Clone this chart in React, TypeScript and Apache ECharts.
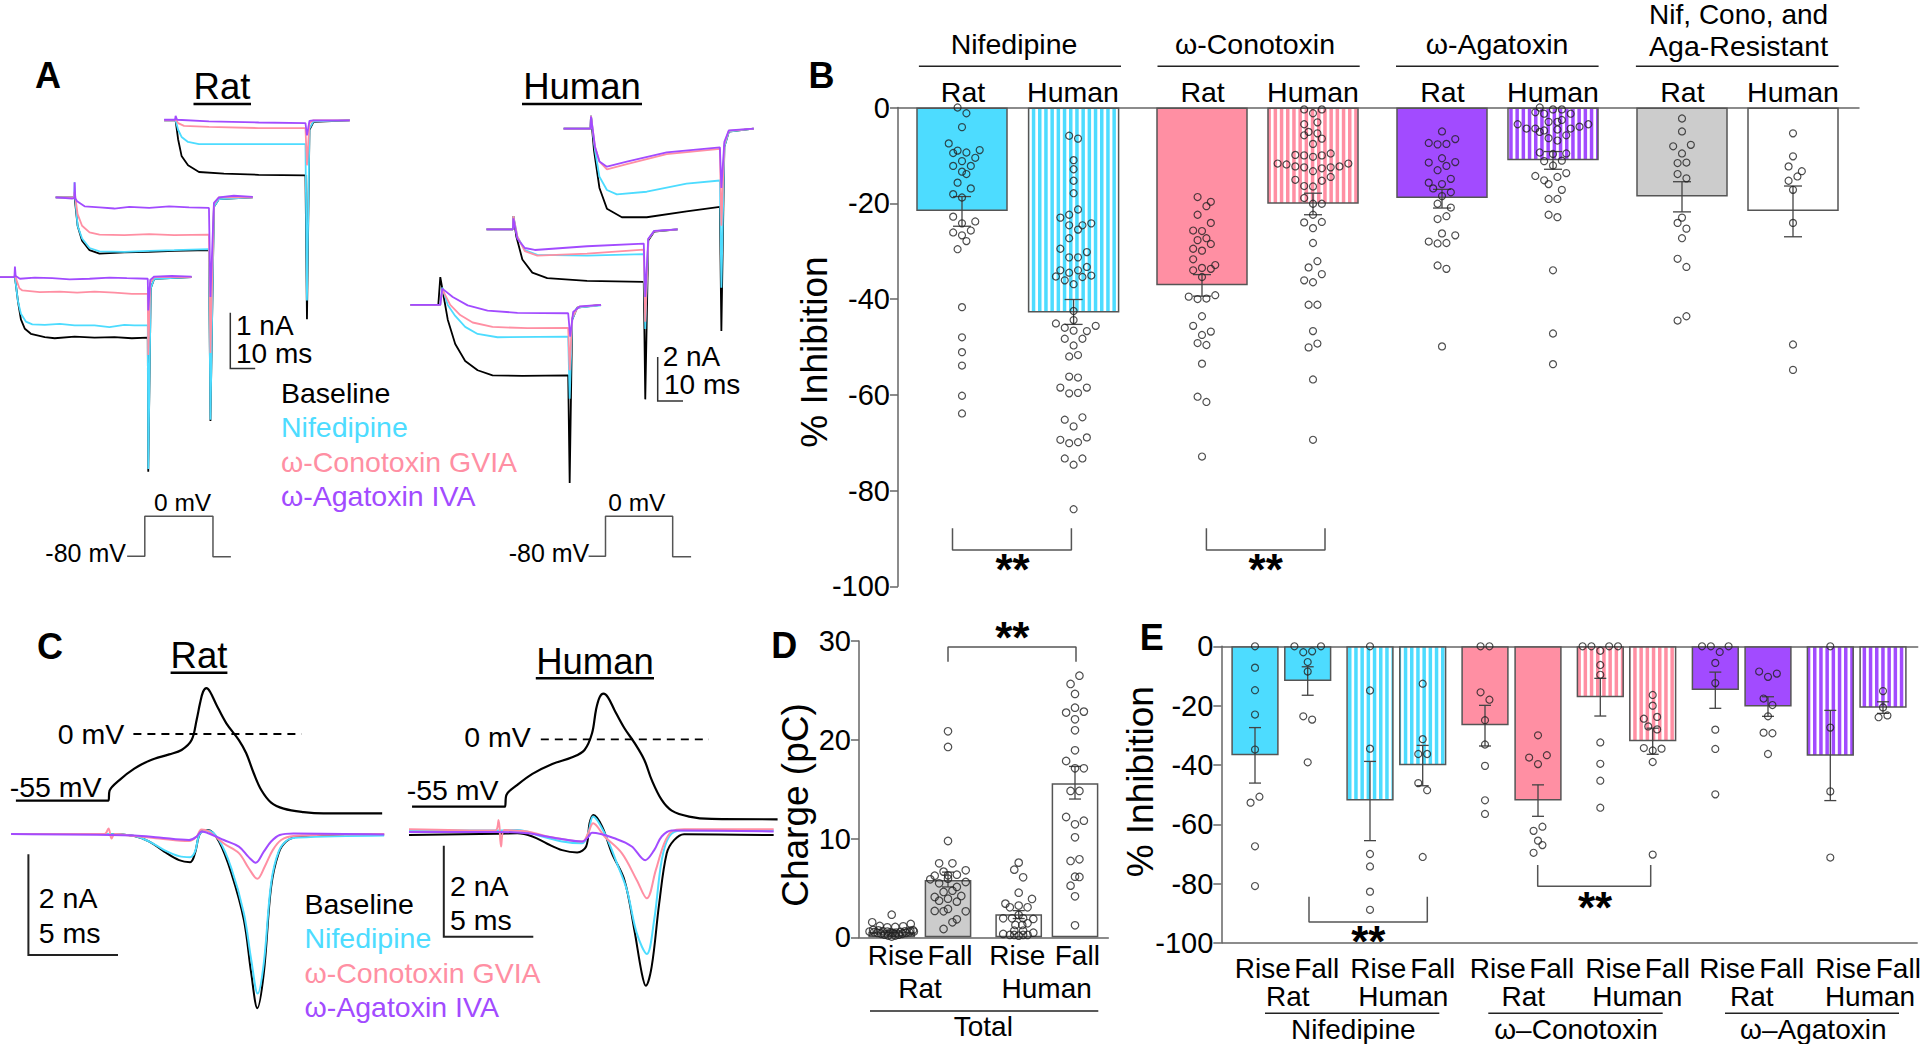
import React, { useEffect, useRef } from "react";
import * as echarts from "echarts";

const FONT = "Liberation Sans, Arial, sans-serif";
const CYAN = "#4ddcff";
const PINK = "#ff8fa3";
const PURPLE = "#a24bff";
const BLACK = "#000000";
const GRAY = "#cccccc";

// ---------- Panel A: calcium currents, [ms, nA] ----------
const ratA1Black = [[-6,0],[0,0],[1.2,-0.43],[2.4,-0.76],[4,-0.93],[6.4,-1.02],[12,-1.08],[16,-1.1],[24,-1.07],[32,-1.09],[40,-1.08],[47,-1.1],[53.4,-1.09],[53.6,-3.5],[54.6,-0.2],[56,-0.03],[71,0]];
const ratA1Cyan = [[-6,0],[0,0],[1.2,-0.43],[2.4,-0.66],[4.4,-0.8],[7,-0.85],[12,-0.86],[18,-0.84],[24,-0.87],[32,-0.87],[38,-0.9],[44,-0.86],[48,-0.87],[53.4,-0.87],[53.6,-3.45],[54.6,-0.2],[56,-0.03],[71,0]];
const ratA1Pink = [[-6,0],[-0.2,0],[0,0.05],[0.6,-0.05],[1.8,-0.2],[3,-0.24],[10,-0.27],[18,-0.26],[25,-0.28],[32,-0.26],[40,-0.28],[47,-0.3],[53.4,-0.3],[53.6,-1.4],[54.4,-0.1],[56,0],[71,0]];
const ratA1Purple = [[-6,0],[-0.2,0],[0,0.19],[0.3,0.02],[2,-0.03],[8,-0.01],[15,-0.02],[22,-0.04],[30,-0.03],[38,-0.01],[45,-0.02],[53.4,-0.03],[53.6,-0.6],[54.4,-0.05],[56,0.01],[63,0.02],[71,0.01]];
const ratA2Black = [[-7.6,0],[0,0],[1.2,-0.51],[3,-0.78],[6,-0.95],[10,-1.01],[20,-0.99],[30,-0.98],[40,-0.96],[54,-0.95],[54.6,-4.02],[56,-0.17],[58,-0.03],[71.6,0]];
const ratA2Cyan = [[-7.6,0],[-0.1,0],[0,0.27],[0.2,0],[1.2,-0.51],[3,-0.74],[6,-0.91],[10,-0.97],[20,-0.98],[30,-0.96],[40,-0.95],[54,-0.93],[54.6,-4.0],[56,-0.17],[58,-0.03],[71.6,0]];
const ratA2Pink = [[-7.6,0],[-0.2,0],[0,0.1],[1.2,-0.3],[3,-0.51],[6,-0.63],[10,-0.67],[20,-0.68],[30,-0.66],[40,-0.68],[54,-0.67],[54.6,-2.8],[56,-0.12],[58,0],[71.6,0]];
const ratA2Purple = [[-7.6,0],[-1,-0.02],[-0.1,-0.01],[0,0.27],[0.3,-0.02],[1,-0.07],[4,-0.16],[10,-0.18],[16,-0.2],[22,-0.17],[30,-0.19],[38,-0.16],[46,-0.18],[54,-0.19],[54.6,-1.79],[56,-0.1],[58,0],[64,0.03],[71.6,0.01]];
const ratA3Black = [[-4.6,0],[0,0],[1,-0.34],[2.4,-0.64],[5,-0.81],[9.4,-0.93],[19.4,-0.96],[33.4,-0.98],[52.2,-0.99],[52.8,-3.58],[53.8,-0.17],[55.4,-0.03],[70,0]];
const ratA3Cyan = [[-4.6,0],[0,0],[1,-0.17],[2.4,-0.3],[5,-0.39],[9.4,-0.43],[29,-0.43],[52.2,-0.43],[52.8,-3.24],[53.8,-0.15],[55.4,-0.02],[70,0]];
const ratA3Pink = [[-4.6,0],[-0.2,0],[0,0.03],[1,-0.05],[3.4,-0.1],[13.4,-0.12],[33.4,-0.14],[52.2,-0.14],[52.8,-0.81],[53.8,-0.05],[55.4,0],[70,0]];
const ratA3Purple = [[-4.6,0.01],[-0.2,0.01],[0,0.08],[0.6,0.01],[13.4,-0.02],[33.4,-0.04],[52.2,-0.05],[52.8,-0.27],[53.8,-0.01],[55.4,0],[70,0]];
const humA1Black = [[-12,0],[-0.8,0],[0,1.26],[1.4,0.36],[3,-0.67],[6,-1.78],[10,-2.55],[15,-2.97],[21,-3.2],[33,-3.23],[51.4,-3.2],[52,-8.1],[53,-0.67],[55,-0.12],[64.6,0]];
const humA1Cyan = [[-12,0],[0,0],[0.8,0.79],[3,0],[6,-0.5],[10,-1],[15,-1.32],[23,-1.47],[51.4,-1.44],[52,-4.26],[53,-0.67],[55,-0.12],[64.6,-0.02]];
const humA1Pink = [[-12,0],[0,0],[0.8,0.7],[4,0],[8,-0.46],[13,-0.8],[21,-1],[35,-1.06],[51.4,-1.04],[52,-2.97],[53,-0.58],[55.4,-0.09],[64.6,0]];
const humA1Purple = [[-12,0],[0,0],[0.8,0.74],[5,0.36],[11,-0.02],[19,-0.26],[31,-0.36],[51.4,-0.38],[52.2,-1.44],[53.4,-0.32],[56,-0.07],[64.6,0]];
const humA2Black = [[-10.8,0],[-0.2,0],[0,0.6],[1.2,-0.34],[3.6,-1.37],[7.6,-1.97],[13.6,-2.22],[29.6,-2.34],[52.4,-2.39],[53,-7.73],[54.2,-0.51],[56.6,-0.1],[66,0]];
const humA2Cyan = [[-10.8,0],[-0.2,0],[0,0.6],[1.6,-0.34],[4.6,-0.94],[9.6,-1.16],[29.6,-1.2],[52.4,-1.13],[53,-4.53],[54.2,-0.45],[56.6,-0.08],[66,0]];
const humA2Pink = [[-10.8,0],[-0.2,0],[0,0.6],[1.6,-0.34],[4.6,-0.99],[9.6,-1.2],[29.6,-1.11],[52.4,-0.92],[53,-4.2],[54.2,-0.45],[56.6,-0.08],[66,0]];
const humA2Purple = [[-10.8,0],[-0.2,0],[0,0.5],[1.6,-0.43],[4.6,-0.85],[8.6,-0.94],[29.6,-0.77],[52.4,-0.65],[53,-3.08],[54.2,-0.43],[56.6,-0.07],[66,0]];
const humA3Black = [[-11,0],[-0.2,0],[0,0.58],[1.2,-0.99],[3.4,-2.7],[6.4,-3.64],[12.4,-4.03],[22.4,-4.03],[38.4,-3.76],[51.8,-3.56],[52.4,-9.2],[53.6,-0.82],[55.4,-0.14],[65.4,0]];
const humA3Cyan = [[-11,0],[-0.2,0],[0,0.58],[1.6,-0.99],[3.4,-2.19],[6.4,-2.79],[10.4,-2.99],[22.4,-2.87],[38.4,-2.5],[51.8,-2.36],[52.4,-7.23],[53.6,-0.82],[55.4,-0.14],[65.4,0]];
const humA3Pink = [[-11,0],[-0.2,0],[0,0.58],[1.6,-0.82],[3.4,-1.5],[6.4,-1.85],[14.4,-1.62],[30.4,-1.16],[51.8,-0.92],[52.4,-4.41],[53.6,-0.7],[55.4,-0.1],[65.4,0]];
const humA3Purple = [[-11,0],[-0.2,0],[0,0.55],[1.6,-0.82],[3.4,-1.5],[6.4,-1.73],[14.4,-1.5],[30.4,-1.08],[51.8,-0.85],[52.4,-2.7],[53.6,-0.6],[55.4,-0.08],[65.4,0]];
const stepRat = [[-7.1,-80],[0,-80],[0,0],[27.4,0],[27.4,-81],[34.6,-81]];
const stepHuman = [[-6.8,-80],[0,-80],[0,0],[27,0],[27,-81],[34.4,-81]];

// ---------- Panel C: action-potential waveform [ms, mV], current [ms, nA] ----------
const apRat = [[-5.17,-55],[-0.1,-55],[0,-55],[0.06,-46.8],[0.61,-38],[1.44,-28.6],[2.28,-22],[3.39,-16.8],[4.08,-13.2],[4.64,-5],[4.92,11.6],[5.11,25.3],[5.28,34.9],[5.47,37.9],[5.67,34.9],[6.03,24],[6.58,8.8],[7.28,-5],[7.69,-15.9],[8.11,-32.4],[8.53,-46.2],[9.08,-56.6],[9.78,-61.6],[10.89,-64.4],[12,-65.5],[15.28,-65.5]];
const apHuman = [[-5.19,-55],[-0.1,-55],[0,-55],[0.08,-45.5],[0.69,-37.3],[1.53,-28.3],[2.64,-20.2],[3.75,-14.7],[4.44,-8.7],[4.86,4.9],[5.08,24],[5.28,34.3],[5.5,37.3],[5.75,34.3],[6.11,24],[6.67,9],[7.22,-2.7],[7.78,-16.9],[8.19,-33.2],[8.75,-49.6],[9.31,-58.3],[10.28,-63.2],[11.53,-65.1],[15.22,-65.4]];
const zeroRat = [[1.39,0],[10.78,0]];
const zeroHuman = [[2,0],[11.39,0]];
const curRatBlack = [[-5.44,0],[0,0],[1.44,-0.04],[2.28,-0.15],[3.11,-0.35],[3.94,-0.52],[4.56,-0.56],[4.83,-0.38],[5.11,0.01],[5.56,0.08],[6.17,-0.15],[6.86,-0.78],[7.56,-1.71],[7.97,-2.77],[8.31,-3.46],[8.67,-2.77],[9.08,-1.05],[9.5,-0.38],[9.92,-0.15],[10.61,-0.05],[15.39,-0.01]];
const curRatCyan = [[-5.44,0],[0,0],[1.44,-0.04],[2.28,-0.15],[3.11,-0.32],[3.94,-0.44],[4.56,-0.46],[4.83,-0.35],[5.11,0.01],[5.56,0.07],[6.17,-0.12],[6.86,-0.68],[7.56,-1.58],[7.97,-2.5],[8.33,-3.17],[8.67,-2.57],[9.08,-0.98],[9.5,-0.35],[10,-0.12],[10.61,-0.07],[15.39,-0.03]];
const curRatPink = [[-5.44,0],[-0.22,0],[0,0.11],[0.17,-0.09],[0.35,0],[1.44,-0.04],[2.83,-0.09],[4.5,-0.14],[4.92,-0.05],[5.19,0.09],[5.61,0.05],[6.44,-0.19],[7.28,-0.38],[7.83,-0.68],[8.31,-0.89],[8.72,-0.65],[9.17,-0.32],[9.64,-0.12],[10.33,-0.04],[15.39,0]];
const curRatPurple = [[-5.44,0],[1.44,-0.03],[2.83,-0.07],[4.5,-0.12],[4.92,-0.05],[5.19,0.05],[5.61,0.01],[6.44,-0.12],[7.28,-0.25],[7.83,-0.46],[8.22,-0.57],[8.67,-0.35],[9.08,-0.15],[9.56,-0.02],[10.33,0.01],[15.39,-0.01]];
const curHumBlack = [[-5.36,-0.04],[-0.42,-0.01],[0.69,0],[1.53,-0.07],[2.36,-0.23],[3.19,-0.37],[4.03,-0.42],[4.53,-0.29],[4.72,0.22],[4.94,0.4],[5.42,0.15],[5.97,-0.44],[6.67,-1.03],[7.22,-2.12],[7.64,-3.08],[7.86,-3.35],[8.19,-2.93],[8.61,-1.54],[9.03,-0.44],[9.44,-0.15],[10,-0.02],[15,-0.04]];
const curHumCyan = [[-5.36,0.07],[-0.42,0.06],[0.69,0.07],[2.08,-0.07],[3.19,-0.18],[4.31,-0.22],[4.64,0],[4.92,0.37],[5.56,0],[6.25,-0.66],[6.81,-1.25],[7.36,-2.2],[7.92,-2.65],[8.33,-1.9],[8.75,-0.59],[9.17,-0.07],[9.86,0.06],[15,0.06]];
const curHumPink = [[-5.36,0.09],[-0.56,0.06],[-0.36,0.29],[-0.22,-0.29],[-0.03,0.07],[1.25,0.04],[2.36,-0.07],[4.31,-0.18],[4.64,0],[4.92,0.22],[5.56,-0.07],[6.53,-0.44],[7.36,-1.03],[7.92,-1.43],[8.42,-0.81],[8.89,-0.22],[9.31,0.04],[10,0.09],[15,0.09]];
const curHumPurple = [[-5.36,0.03],[-0.42,0.03],[1.25,0],[2.64,-0.09],[4.31,-0.18],[4.67,-0.07],[4.86,0.01],[6.25,-0.13],[7.08,-0.29],[7.83,-0.59],[8.33,-0.37],[8.75,-0.07],[9.31,0.06],[10,0.06],[15,0.04]];

// ---------- Panel B ----------
const bBarValues = [-21.6,-42.8,-37.1,-20.1,-18.9,-11,-18.6,-21.6];
const bErrUpper = [-18.6,-40.1,-34.9,-17.9,-17.1,-9.2,-15.5,-16.4];
const bErrLower = [-24.8,-45.3,-39.4,-22.4,-21,-12.9,-21.8,-27];
const bNifRatVals = [0,-1.2,-4.1,-7.5,-8.9,-9,-9.4,-9.5,-10.5,-11.2,-12.2,-12.2,-13.4,-13.9,-15.7,-16.9,-18.1,-18.8,-22.8,-23.8,-24.2,-25.7,-26.1,-26.7,-27.9,-29.6,-41.7,-48,-51.1,-53.9,-60.2,-63.9];
const bNifRatCols = [-1,1,0,-3,4,-1,1,-2,3,0,-2,2,0,1,-1,2,-2,0,-2,3,0,2,-2,0,1,-1,0,0,0,0,0,0];
const bNifHumVals = [-5.9,-6.5,-11,-12.9,-15.3,-17.9,-21.3,-22.4,-23,-24.2,-24.6,-24.6,-25.5,-27.3,-29.5,-30.2,-31.3,-31.3,-33.3,-34,-34,-34.5,-35.3,-35.1,-35.4,-36.1,-36.9,-42.5,-44.4,-45.1,-45.6,-46,-46.6,-46.7,-48.3,-48.3,-49.7,-52,-51.7,-56.2,-56.4,-58.5,-58.5,-59.7,-59.6,-65.2,-64.7,-66.6,-69.4,-68.9,-70.1,-69.9,-73.3,-73.3,-74.6,-83.9];
const bNifHumCols = [-1,1,0,0,0,0,1,-1,-3,4,-1,2,1,-1,-3,3,-1,1,3,-3,1,-1,-4,4,2,-2,0,0,0,-4,5,-2,0,3,-2,2,0,-1,1,-1,1,-3,3,-1,1,-2,2,0,-3,3,-1,1,-2,2,0,0];
const bConoRatVals = [-18.7,-19.7,-20.6,-22.4,-24.1,-25.7,-25.8,-27.3,-27.7,-28.5,-29.5,-29.9,-31.7,-32.9,-33.5,-33.7,-34,-35.4,-39.5,-39.2,-40,-39.9,-43.6,-45.6,-46.8,-47.5,-49.2,-49.6,-53.5,-60.4,-61.5,-72.9];
const bConoRatCols = [-1,2,1,-1,2,-2,0,1,-1,2,-2,0,-2,3,0,2,-2,0,-3,3,-1,1,0,-2,2,0,-1,1,0,-1,1,0];
const bConoHumVals = [-0.4,-1.2,-0.4,-3.5,-3.1,-5.1,-5.4,-5.8,-6.5,-7.6,-11.7,-11.9,-9.9,-10,-10.3,-10,-9.6,-12.3,-12.5,-13.3,-12.7,-12.5,-12.3,-11.7,-15.1,-15.3,-14.5,-16.4,-16.5,-18.9,-20.1,-20.1,-22.4,-24,-23.9,-25.2,-28.3,-32.1,-33.4,-34.8,-36.1,-36.5,-41.2,-41.2,-46.7,-49.3,-50.1,-56.8,-69.4];
const bConoHumCols = [-2,0,2,-2,1,-1,1,-2,2,0,-8,-6,-4,-2,0,2,4,-4,-2,0,2,4,6,8,-4,2,4,-2,0,-2,0,2,0,-2,2,0,0,1,-1,2,-2,0,-1,1,0,1,-1,0,0];
const bAgaRatVals = [-5,-6.6,-7.4,-7.7,-7.6,-10.6,-11.4,-11.5,-12.2,-13.1,-14.9,-15.7,-16,-16.9,-17.7,-18.5,-20.1,-20.9,-22.7,-23.3,-26.3,-26.7,-28,-28.4,-28.3,-33,-33.7,-49.9];
const bAgaRatCols = [0,3,-3,-1,1,0,3,-3,1,-1,2,-3,0,-2,2,0,-1,2,1,-1,0,3,-3,-1,1,-1,1,0];
const bAgaHumVals = [0,-1,-1.3,-0.4,-0.4,-1.3,-2.6,-3,-3,-3.5,-3.5,-4,-4.4,-4.4,-5.1,-4.8,-4.6,-4.4,-5.8,-6.4,-6.9,-9.4,-9.7,-9.6,-11.2,-11.1,-12.1,-14.3,-13.7,-14.5,-15.2,-16,-17.2,-19.1,-19.1,-22.4,-22.9,-34,-47.2,-53.6];
const bAgaHumCols = [-3,-4,-2,0,2,4,2,1,-1,-8,8,6,-6,-4,-3,-2,1,4,3,-1,1,-3,0,3,-2,2,0,-4,3,1,-2,-1,2,-1,1,-1,1,0,0,0];
const bResRatVals = [-2.3,-5,-8.1,-7.8,-9.6,-11.6,-11.5,-13.9,-14.8,-23,-24.1,-25.3,-27.3,-31.6,-33.3,-44.5,-43.6];
const bResRatCols = [0,0,-2,2,0,-1,1,-1,1,0,-1,1,0,-1,1,-1,1];
const bResHumVals = [-5.4,-10.2,-12.3,-13.3,-14.4,-15.3,-17.2,-24.1,-49.5,-54.8];
const bResHumCols = [0,0,-1,2,1,-1,0,0,0,0];

// ---------- Panel D ----------
const dBarValues = [0.57,5.8,2.33,15.6];
const dErrUpper = [0.65,6.6,2.7,17.3];
const dErrLower = [0.49,5.1,1.9,14];
const dRiseRatVals = [2.29,1.52,1.15,1.01,1.05,1.11,1.35,0.75,0.7,0.62,0.58,0.5,0.45,0.48,0.55,0.6,0.68,0.72,0.58,0.52,0.44,0.36,0.27,0.18,0.08,0.18,0.27,0.36,0.44,0.52,0.58];
const dRiseRatCols = [0,-4.4,-2.7,-1,0.8,2.6,4.3,-4.2,-3,-2,-1,-0.3,0.3,1,2,3,4.2,4.8,-5,-4,-3.2,-2.4,-1.6,-0.8,0,0.8,1.6,2.4,3.2,4,5];
const dFallRatVals = [20.86,19.27,9.75,7.49,7.49,6.65,6.78,6.34,6.28,6.24,5.87,5.47,5.6,5.1,5.94,4.72,4.59,4.18,4.08,3.71,3.91,3.61,2.67,2.63,2.87,2.63,1.82,1.52,0.84];
const dFallRatCols = [0,0,0,-2,1,-1,4,2,0,-3,-4,-2,4,2,0,1,-1,3,-3,-2,0,2,-3,-1,0,4,2,1,-1];
const dRiseHumVals = [7.56,6.85,6.07,4.52,3.88,3.41,3.04,3.21,3.04,2.26,1.92,1.92,1.92,1.86,1.42,1.25,1.25,0.67,0.67,0.34,0.24,0.24,0.17,0.24,0.24,0.47];
const dRiseHumCols = [0,-1,1,0,3,-3,-2,0,2,0,-3.5,-1.5,1,3.3,2,-0.75,0.8,-1,1,-3.5,-2,-1,0,1,2,3.3];
const dFallHumVals = [26.49,25.65,24.64,23.25,22.75,22.85,22.07,20.96,18.93,17.85,17.11,17.11,14.82,14.82,12.18,11.81,11.44,10.12,7.73,7.9,6.14,6.11,5.23,4.15,1.21];
const dFallHumCols = [1,-1,0,0,-2,2,0,0,0,-2,0,2,-1,1,-2,2,0,0,-1,1,0,1,-1,0,0];

// ---------- Panel E ----------
const eBarValues = [-36.7,-11.7,-52,-40.1,-26.6,-52,-17.2,-32,-14.7,-20.3,-36.9,-20.7];
const eErrUpper = [-27.4,-6.9,-38.8,-33.4,-19.9,-46.7,-10.8,-27.6,-8.7,-17,-21.6,-18.7];
const eErrLower = [-46.1,-16.5,-65.5,-47,-33.6,-57.3,-23.5,-36.4,-20.9,-23.6,-52,-22.6];
const ePointVals = [
  [0,-7.2,-14.8,-23,-34.8,-50.7,-52.7,-67.4,-80.8],
  [0,0,-2,-1.7,-5.3,-8.5,-23.6,-24.7,-39.1],
  [0,-14.9,-34.5,-70,-74.2,-82.7,-88.8],
  [-12.6,-31.3,-36.3,-36.3,-46.1,-48.5,-71],
  [0,0,-15.5,-18,-24.9,-33.1,-40.3,-51.9,-56.5],
  [-30,-37.5,-36.7,-39.7,-60.8,-62.2,-65.5,-67,-69.6],
  [0,0,0,0,-1.5,-6.3,-9.6,-32.4,-39.6,-45.3,-54.4],
  [-16.4,-20,-24.4,-23.8,-27,-28,-34.3,-35.1,-34.5,-39,-70.2],
  [0,0,0,-1.9,-5.6,-12.4,-28.1,-34.6,-49.9],
  [-8.5,-9.2,-10.3,-17.6,-19.8,-23.6,-29.1,-29.3,-36.3],
  [0,-27.4,-48.9,-71.2],
  [-15.1,-20.6,-23.9,-23.3],
];
const ePointCols = [
  [0,0,0,0,0,1,-1,0,0],
  [-3,3,-1,1,0,0,-1,1,0],
  [0,0,0,0,0,0,0],
  [0,0,-1,1,-1,1,0],
  [-1,1,-1,1,0,0,0,0,0],
  [0,-2,2,0,1,-1,0,1,-1],
  [-4,-2,2,4,0,0,0,0,0,0,0],
  [0,0,-2,1,-1,1,-2,0,2,0,0],
  [-3,-1,3,1,0,0,0,0,0],
  [-2,2,0,-1,1,0,-1,1,0],
  [0,0,0,0],
  [0,0,-1,1],
];

const bBrackets = [[[54.5,-87.85],[54.5,-92.4],[173.4,-92.4],[173.4,-87.85]],[[308.4,-87.85],[308.4,-92.4],[427,-92.4],[427,-87.85]]];
const dBracket = [[89,27.9],[89,29.4],[217,29.4],[217,27.9]];
const eBrackets = [[[87.7,-84.4],[87.7,-92.9],[206,-92.9],[206,-84.4]],[[316.4,-73.7],[316.4,-80.9],[429.4,-80.9],[429.4,-73.7]]];

const FRAME = "#555555";

function stripes(color: string) {
  const c = document.createElement("canvas");
  c.width = 31;
  c.height = 4;
  const g = c.getContext("2d")!;
  g.fillStyle = "#ffffff";
  g.fillRect(0, 0, 31, 4);
  g.fillStyle = color;
  for (let i = 0; i < 5; i++) g.fillRect(6.2 * i + 2.6, 0, 3.5, 4);
  return { image: c, repeat: "repeat", imageWidth: 31, imageHeight: 4 };
}

function buildOption() {
  const grids: any[] = [];
  const xAxes: any[] = [];
  const yAxes: any[] = [];
  const series: any[] = [];
  const gfx: any[] = [];

  const text = (s: string, x: number, y: number, o: any = {}) => {
    const align = o.align || "center";
    gfx.push({
      type: "text",
      x,
      y,
      rotation: o.rot || 0,
      silent: true,
      style: {
        text: s,
        fontFamily: FONT,
        fontSize: o.size || 28.5,
        fontWeight: o.bold ? "bold" : "normal",
        fill: o.color || "#000",
        align,
        verticalAlign: "middle",
        textAlign: align,
        textVerticalAlign: "middle",
      },
    });
  };
  const seg = (x1: number, y1: number, x2: number, y2: number, w = 1.5, c = "#222") => {
    gfx.push({ type: "line", silent: true, shape: { x1, y1, x2, y2 }, style: { stroke: c, lineWidth: w } });
  };
  const poly = (pts: number[][], w = 1.5, c = "#333") => {
    gfx.push({ type: "polyline", silent: true, shape: { points: pts }, style: { stroke: c, lineWidth: w, fill: "none" } });
  };

  // hidden scaled axes placed so that one axis unit maps to a known pixel length
  const scaled = (x0: number, y0: number, pxX: number, pxY: number, xmin: number, xmax: number, ymin: number, ymax: number) => {
    grids.push({ left: x0 + xmin * pxX, width: (xmax - xmin) * pxX, top: y0 - ymax * pxY, height: (ymax - ymin) * pxY, containLabel: false });
    xAxes.push({ type: "value", gridIndex: grids.length - 1, min: xmin, max: xmax, show: false });
    yAxes.push({ type: "value", gridIndex: grids.length - 1, min: ymin, max: ymax, show: false });
    return grids.length - 1;
  };
  const line = (g: number, data: number[][], color: string, width: number, extra: any = {}) => {
    series.push({
      type: "line",
      xAxisIndex: g,
      yAxisIndex: g,
      data,
      showSymbol: false,
      symbol: "none",
      clip: false,
      silent: true,
      lineStyle: { color, width, ...(extra.lineStyle || {}) },
      smooth: extra.smooth || false,
    });
  };
  const quad = (g: number, k: number[][], c: number[][], p: number[][], u: number[][], w: number, smooth = 0) => {
    line(g, k, BLACK, w, { smooth });
    line(g, c, CYAN, w, { smooth });
    line(g, p, PINK, w, { smooth });
    line(g, u, PURPLE, w, { smooth });
  };

  // Panel A sweeps
  const pxMs = 2.488;
  const ratNA = 55.6;
  const humNA = 22;
  quad(scaled(14.9, 277.1, pxMs, ratNA, -6, 71, -4, 1), ratA1Black, ratA1Cyan, ratA1Pink, ratA1Purple, 1.8);
  quad(scaled(74.6, 197.4, pxMs, ratNA, -7.6, 71.6, -4.5, 1), ratA2Black, ratA2Cyan, ratA2Pink, ratA2Purple, 1.8);
  quad(scaled(175.6, 120.3, pxMs, ratNA, -4.6, 70, -4, 1), ratA3Black, ratA3Cyan, ratA3Pink, ratA3Purple, 1.8);
  quad(scaled(440.3, 304.9, pxMs, humNA, -12, 64.6, -9, 2), humA1Black, humA1Cyan, humA1Pink, humA1Purple, 1.8);
  quad(scaled(513.4, 229.3, pxMs, humNA, -10.8, 66, -9, 2), humA2Black, humA2Cyan, humA2Pink, humA2Purple, 1.8);
  quad(scaled(591, 128.6, pxMs, humNA, -11, 65.4, -10, 2), humA3Black, humA3Cyan, humA3Pink, humA3Purple, 1.8);
  line(scaled(144.8, 516.2, pxMs, 0.5, -8, 36, -85, 5), stepRat, "#555", 1.5);
  line(scaled(605.5, 516.2, pxMs, 0.5, -8, 36, -85, 5), stepHuman, "#555", 1.5);

  // Panel C
  const pxMsC = 17.91;
  const apR = scaled(108.5, 734, pxMsC, 1.212, -6, 16, -70, 40);
  line(apR, apRat, "#000", 2.2, { smooth: 0.35 });
  line(apR, zeroRat, "#000", 1.8, { lineStyle: { type: [8, 6] } });
  const apH = scaled(505, 739.3, pxMsC, 1.223, -6, 16, -70, 40);
  line(apH, apHuman, "#000", 2.2, { smooth: 0.35 });
  line(apH, zeroHuman, "#000", 1.8, { lineStyle: { type: [8, 6] } });
  quad(scaled(108.5, 834, pxMsC, 50.33, -6, 16, -4, 1), curRatBlack, curRatCyan, curRatPink, curRatPurple, 2, 0.35);
  quad(scaled(505, 833.3, pxMsC, 45.5, -6, 16, -4, 1), curHumBlack, curHumCyan, curHumPink, curHumPurple, 2, 0.35);

  // Bar panels
  const barPanel = (cfg: any) => {
    const g = grids.length;
    grids.push(cfg.grid);
    xAxes.push({
      type: "value",
      gridIndex: g,
      min: 0,
      max: cfg.xMax,
      position: cfg.xPos,
      splitLine: { show: false },
      axisTick: { show: false },
      axisLabel: { show: false },
      axisLine: { show: true, onZero: false, lineStyle: { color: "#666", width: 1.5 } },
    });
    yAxes.push({
      type: "value",
      gridIndex: g,
      min: cfg.yMin,
      max: cfg.yMax,
      interval: cfg.interval,
      splitLine: { show: false },
      axisTick: { show: true, length: 8, lineStyle: { color: "#666", width: 1.5 } },
      axisLine: { show: true, onZero: false, lineStyle: { color: "#666", width: 1.5 } },
      axisLabel: { fontFamily: FONT, fontSize: 29, color: "#000", margin: 8, padding: [7, 0, 0, 0] },
    });
    series.push({
      type: "bar",
      xAxisIndex: g,
      yAxisIndex: g,
      barWidth: cfg.barWidth,
      silent: true,
      data: cfg.values.map((v: number, i: number) => ({
        value: [cfg.slots[i], v],
        itemStyle: { color: cfg.fills[i], borderColor: FRAME, borderWidth: 1.5 },
      })),
    });
    series.push({
      type: "custom",
      xAxisIndex: g,
      yAxisIndex: g,
      silent: true,
      clip: false,
      z: 3,
      encode: { x: 0, y: [1, 2] },
      data: cfg.values.map((_: number, i: number) => [cfg.slots[i], cfg.lo[i], cfg.hi[i]]),
      renderItem: (_p: any, api: any) => {
        const a = api.coord([api.value(0), api.value(1)]);
        const b = api.coord([api.value(0), api.value(2)]);
        const st = { stroke: "#444", lineWidth: 1.3, fill: "none" };
        return {
          type: "group",
          children: [
            { type: "line", shape: { x1: a[0], y1: a[1], x2: b[0], y2: b[1] }, style: st },
            { type: "line", shape: { x1: a[0] - cfg.cap, y1: a[1], x2: a[0] + cfg.cap, y2: a[1] }, style: st },
            { type: "line", shape: { x1: b[0] - cfg.cap, y1: b[1], x2: b[0] + cfg.cap, y2: b[1] }, style: st },
          ],
        };
      },
    });
    cfg.points.forEach((vals: number[], i: number) => {
      series.push({
        type: "scatter",
        xAxisIndex: g,
        yAxisIndex: g,
        silent: true,
        clip: false,
        z: 4,
        symbol: "circle",
        symbolSize: cfg.dot,
        itemStyle: { color: "rgba(255,255,255,0)", borderColor: "#222", borderWidth: 1.2 },
        data: vals.map((v, j) => [cfg.slots[i] + cfg.cols[i][j] * cfg.unit, v]),
      });
    });
    (cfg.brackets || []).forEach((b: number[][]) => line(g, b, "#555", 1.5));
    return g;
  };

  barPanel({
    grid: { left: 898, top: 107.5, width: 961, height: 478.8 },
    xMax: 961, xPos: "top", yMin: -100, yMax: 0, interval: 20,
    slots: [64, 175.6, 304, 415, 544, 655, 784, 895],
    values: bBarValues, lo: bErrLower, hi: bErrUpper, barWidth: 91.5, cap: 9, dot: 7, unit: 4.42,
    fills: [CYAN, stripes(CYAN), PINK, stripes(PINK), PURPLE, stripes(PURPLE), GRAY, "#ffffff"],
    points: [bNifRatVals, bNifHumVals, bConoRatVals, bConoHumVals, bAgaRatVals, bAgaHumVals, bResRatVals, bResHumVals],
    cols: [bNifRatCols, bNifHumCols, bConoRatCols, bConoHumCols, bAgaRatCols, bAgaHumCols, bResRatCols, bResHumCols],
    brackets: bBrackets,
  });
  barPanel({
    grid: { left: 859, top: 641, width: 249.3, height: 296.3 },
    xMax: 249.3, xPos: "bottom", yMin: 0, yMax: 30, interval: 10,
    slots: [32.7, 89, 159.7, 216],
    values: dBarValues, lo: dErrLower, hi: dErrUpper, barWidth: 46.7, cap: 6, dot: 7.5, unit: 4.43,
    fills: [GRAY, GRAY, "#ffffff", "#ffffff"],
    points: [dRiseRatVals, dFallRatVals, dRiseHumVals, dFallHumVals],
    cols: [dRiseRatCols, dFallRatCols, dRiseHumCols, dFallHumCols],
    brackets: [dBracket],
  });
  const eg = barPanel({
    grid: { left: 1221.3, top: 646.3, width: 696.4, height: 296.7 },
    xMax: 696.4, xPos: "top", yMin: -100, yMax: 0, interval: 20,
    slots: [33.7, 86.4, 148.7, 201.4, 263.7, 316.7, 379, 431.4, 494, 546.7, 609, 661.7],
    values: eBarValues, lo: eErrLower, hi: eErrUpper, barWidth: 47.3, cap: 6, dot: 7, unit: 4.43,
    fills: [CYAN, CYAN, stripes(CYAN), stripes(CYAN), PINK, PINK, stripes(PINK), stripes(PINK), PURPLE, PURPLE, stripes(PURPLE), stripes(PURPLE)],
    points: ePointVals,
    cols: ePointCols,
    brackets: eBrackets,
  });
  line(eg, [[0, -100], [696.4, -100]], "#666", 1.5);

  // Panel A text
  text("A", 48, 75, { bold: true, size: 36 });
  text("Rat", 222, 86.5, { size: 36.5 });
  seg(193.5, 104, 251, 104, 2.5, "#000");
  text("Human", 582, 86.5, { size: 36.5 });
  seg(522, 104, 642, 104, 2.5, "#000");
  text("1 nA", 236, 325, { align: "left", size: 28 });
  text("10 ms", 236, 353.5, { align: "left", size: 28 });
  poly([[230.3, 312.8], [230.3, 368.4], [255.2, 368.4]]);
  text("2 nA", 662.7, 356, { align: "left", size: 28 });
  text("10 ms", 664, 384.5, { align: "left", size: 28 });
  poly([[657.7, 357], [657.7, 401], [683, 401]]);
  text("Baseline", 281, 393, { align: "left" });
  text("Nifedipine", 281, 427.4, { align: "left", color: CYAN });
  text("ω-Conotoxin GVIA", 281, 461.7, { align: "left", color: PINK });
  text("ω-Agatoxin IVA", 281, 496, { align: "left", color: PURPLE });
  text("0 mV", 182.6, 502.6, { size: 24.5 });
  text("-80 mV", 85.6, 552.6, { size: 25 });
  text("0 mV", 636.8, 502.6, { size: 24.5 });
  text("-80 mV", 549, 553.4, { size: 25 });

  // Panel B text
  text("B", 821.4, 75.4, { bold: true, size: 36 });
  text("% Inhibition", 814.3, 352, { size: 37, rot: Math.PI / 2 });
  text("Nifedipine", 1014, 44);
  text("ω-Conotoxin", 1255, 44);
  text("ω-Agatoxin", 1497, 44);
  text("Nif, Cono, and", 1738.6, 14.3, { size: 28 });
  text("Aga-Resistant", 1738.6, 46);
  seg(918.9, 66.2, 1121, 66.2);
  seg(1157.5, 66.2, 1359.7, 66.2);
  seg(1396, 66.2, 1598.6, 66.2);
  seg(1635.9, 66.2, 1838.6, 66.2);
  [963, 1202.6, 1442.4, 1682.4].forEach((x) => text("Rat", x, 92));
  [1073, 1313, 1553, 1793].forEach((x) => text("Human", x, 92));
  text("**", 1012.5, 569, { bold: true, size: 44 });
  text("**", 1265.7, 569, { bold: true, size: 44 });

  // Panel C text
  text("C", 50, 646, { bold: true, size: 36 });
  text("Rat", 199, 655, { size: 36.5 });
  seg(170.6, 672.7, 227.4, 672.7, 2.5, "#000");
  text("Human", 595, 661.7, { size: 36.5 });
  seg(535.8, 678.3, 654, 678.3, 2.5, "#000");
  text("0 mV", 91, 734);
  text("-55 mV", 55.7, 786.7);
  text("0 mV", 497.5, 737.3);
  text("-55 mV", 452.7, 790);
  text("2 nA", 38.8, 898.3, { align: "left" });
  text("5 ms", 38.8, 933.3, { align: "left" });
  poly([[28.4, 854.3], [28.4, 955], [118, 955]], 2, "#222");
  text("2 nA", 450, 885.7, { align: "left" });
  text("5 ms", 450, 920, { align: "left" });
  poly([[443.8, 845.7], [443.8, 936.7], [533.3, 936.7]], 2, "#222");
  text("Baseline", 304.5, 904, { align: "left" });
  text("Nifedipine", 304.5, 938.3, { align: "left", color: CYAN });
  text("ω-Conotoxin GVIA", 304.5, 972.7, { align: "left", color: PINK });
  text("ω-Agatoxin IVA", 304.5, 1007.3, { align: "left", color: PURPLE });

  // Panel D text
  text("D", 784.3, 645, { bold: true, size: 36 });
  text("Charge (pC)", 795.7, 805, { size: 37, rot: Math.PI / 2 });
  text("Rise", 895.7, 955, { size: 28 });
  text("Fall", 950, 955, { size: 28 });
  text("Rise", 1017.3, 955, { size: 28 });
  text("Fall", 1077.3, 955, { size: 28 });
  text("Rat", 920, 988.3, { size: 28 });
  text("Human", 1046.7, 988.3, { size: 28 });
  seg(870, 1011, 1098.3, 1011);
  text("Total", 983.3, 1026.7, { size: 28 });
  text("**", 1012.3, 637.5, { bold: true, size: 44 });

  // Panel E text
  text("E", 1151.7, 637, { bold: true, size: 36 });
  text("% Inhibition", 1140, 781.7, { size: 37, rot: Math.PI / 2 });
  [1262.7, 1378.3, 1497.7, 1613.3, 1727.3, 1843.3].forEach((x) => text("Rise", x, 968, { size: 28 }));
  [1316.7, 1432.7, 1551.7, 1667.3, 1781.7, 1898.3].forEach((x) => text("Fall", x, 968, { size: 28 }));
  [1287.7, 1523.3, 1751.7].forEach((x) => text("Rat", x, 996, { size: 28 }));
  [1403.3, 1637.3, 1870].forEach((x) => text("Human", x, 996, { size: 28 }));
  seg(1265, 1013.3, 1439.3, 1013.3);
  seg(1488.3, 1013.3, 1662.7, 1013.3);
  seg(1725, 1013.3, 1899, 1013.3);
  text("Nifedipine", 1353.3, 1029, { size: 28 });
  text("ω–Conotoxin", 1576, 1029, { size: 28 });
  text("ω–Agatoxin", 1813.3, 1029, { size: 28 });
  text("**", 1368.3, 941, { bold: true, size: 44 });
  text("**", 1595, 907, { bold: true, size: 44 });

  return {
    animation: false,
    backgroundColor: "#ffffff",
    grid: grids,
    xAxis: xAxes,
    yAxis: yAxes,
    series,
    graphic: { elements: gfx },
  };
}

export default function App() {
  const ref = useRef<HTMLDivElement>(null);
  useEffect(() => {
    const chart = echarts.init(ref.current!, undefined, { renderer: "svg" });
    chart.setOption(buildOption() as any);
    return () => chart.dispose();
  }, []);
  return <div ref={ref} style={{ position: "absolute", left: 0, top: 0, width: 1920, height: 1044 }} />;
}
